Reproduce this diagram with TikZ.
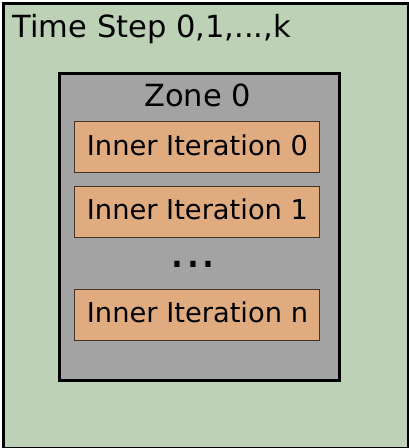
\documentclass[tikz,border=0pt]{standalone}
\usepackage{fontspec}
\setmainfont{DejaVu Sans}
\definecolor{tsgreen}{RGB}{189,209,182}
\definecolor{zgray}{RGB}{163,163,163}
\definecolor{itorange}{RGB}{224,172,127}
\definecolor{itborder}{RGB}{70,52,38}
\tikzset{
  outerbox/.style={draw=black, line width=3pt, fill=tsgreen},
  zonebox/.style={draw=black, line width=3pt, fill=zgray},
  iterbox/.style={draw=itborder, line width=1.1pt, fill=itorange, minimum width=245pt, minimum height=51pt, inner sep=0pt},
  bigtext/.style={font=\fontsize{30.5}{36}\selectfont, inner sep=0pt},
  itertext/.style={font=\fontsize{27.3}{32}\selectfont, inner sep=0pt, anchor=base},
  dotstext/.style={font=\fontsize{50}{56}\selectfont, inner sep=0pt, anchor=base},
}
\begin{document}
\begin{tikzpicture}[x=1pt,y=-1pt]
\useasboundingbox (0,0) rectangle (408,448);
\node[outerbox, minimum width=405pt, minimum height=445pt, inner sep=0pt, anchor=north west] (ts) at (1.5,1.5) {};
\node[bigtext, anchor=base west] (tslabel) at (12.5,37) {Time Step 0,1,...,k};
\node[zonebox, minimum width=280.5pt, minimum height=307pt, inner sep=0pt, anchor=north west] (zone) at (57.5,71.5) {};
\node[bigtext, anchor=base] (zonelabel) at (197.75,106) {Zone 0};
\node[iterbox] (it0) at (196.8,147.2) {};
\node[itertext] (it0t) at (197.5,155) {Inner Iteration 0};
\node[iterbox] (it1) at (196.8,211.8) {};
\node[itertext] (it1t) at (197.5,219.6) {Inner Iteration 1};
\node[dotstext] (dots) at (193,267) {...};
\node[iterbox] (itn) at (196.8,315) {};
\node[itertext] (itnt) at (197.5,322.8) {Inner Iteration n};
\end{tikzpicture}
\end{document}
